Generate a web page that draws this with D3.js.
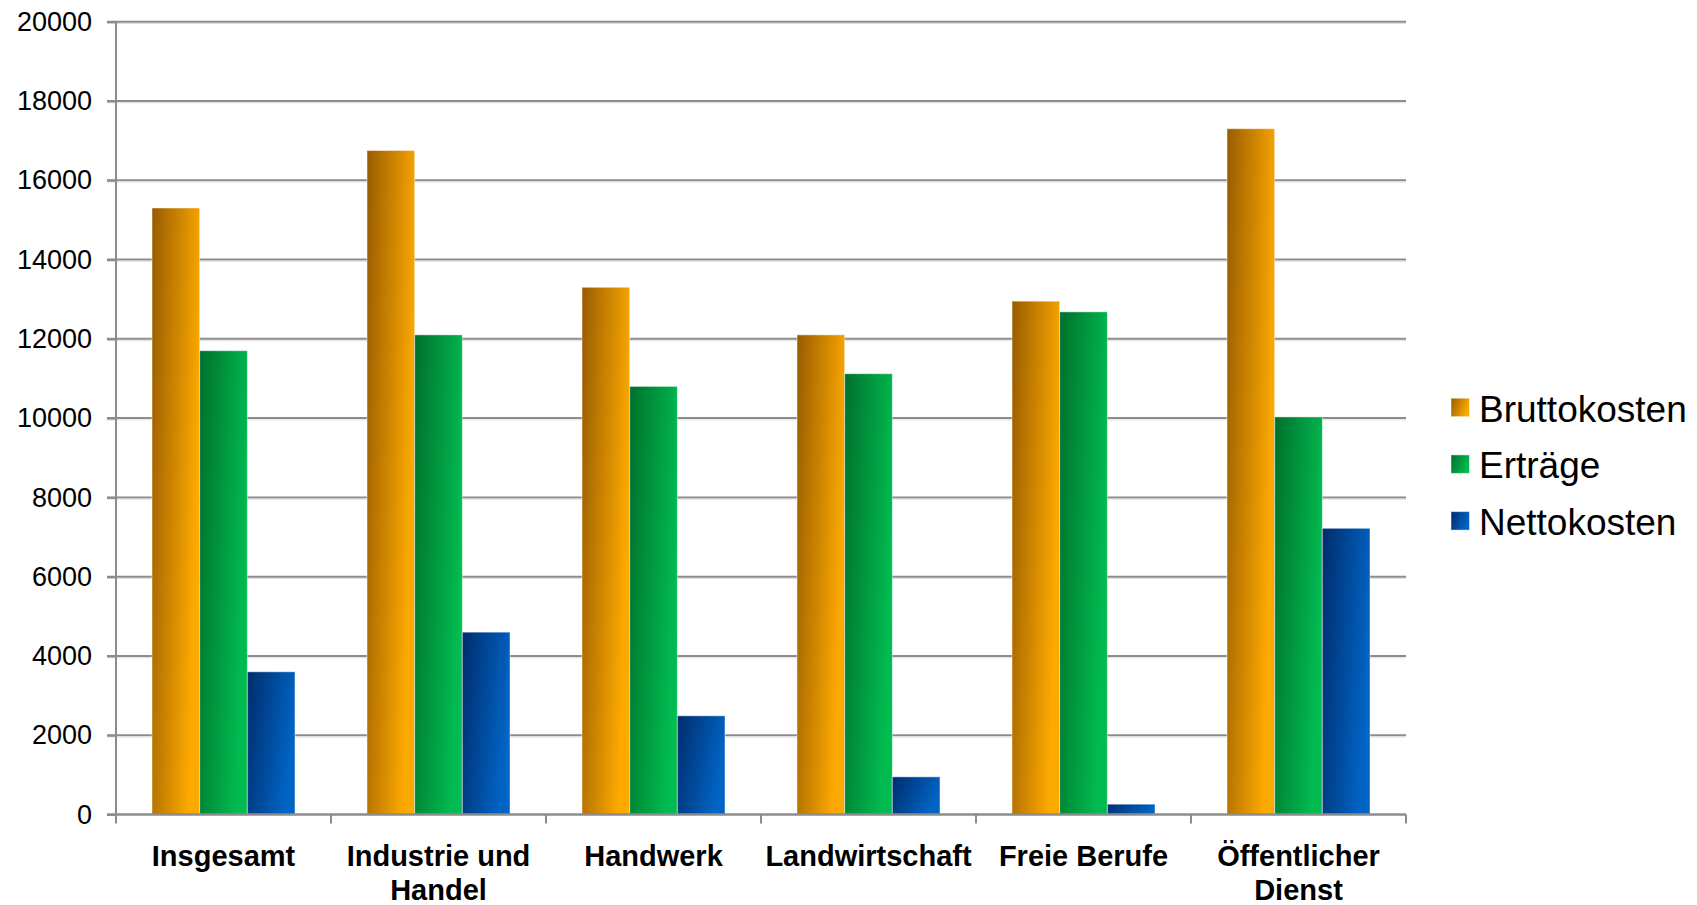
<!DOCTYPE html>
<html>
<head>
<meta charset="utf-8">
<script src="https://cdn.jsdelivr.net/npm/d3@7/dist/d3.min.js"></script>
<style>
  html, body { margin: 0; padding: 0; background: #ffffff; }
  svg { display: block; font-family: "Liberation Sans", Arial, sans-serif; }
</style>
</head>
<body>
<svg id="chart" width="1697" height="905"></svg>
<script>
const categories = [["Insgesamt"], ["Industrie und", "Handel"], ["Handwerk"], ["Landwirtschaft"], ["Freie Berufe"], ["Öffentlicher", "Dienst"]];
const seriesNames = ["Bruttokosten", "Erträge", "Nettokosten"];
const bruttokosten = [15300, 16750, 13300, 12100, 12950, 17300];
const ertraege     = [11700, 12100, 10800, 11120, 12680, 10030];
const nettokosten  = [3600, 4600, 2490, 950, 260, 7220];
const yTicks = [0, 2000, 4000, 6000, 8000, 10000, 12000, 14000, 16000, 18000, 20000];
const seriesValues = [bruttokosten, ertraege, nettokosten];
const gradStops = [["#985c00", "#fdaa00"], ["#00702c", "#00bb50"], ["#002c6c", "#0064c4"]];

(function () {
const svg = d3.select("#chart");
const pLeft = 116, pRight = 1406, pTop = 21.7, pBottom = 814.5;

const x = d3.scaleBand().domain(d3.range(categories.length)).range([pLeft, pRight])
  .paddingInner(0.335).paddingOuter(0.1675);
const xs = d3.scaleBand().domain(d3.range(seriesNames.length)).range([0, x.bandwidth()]);
const y = d3.scaleLinear().domain([0, 20000]).range([pBottom, pTop]);

const defs = svg.append("defs");
gradStops.forEach((s, i) => {
  const g = defs.append("linearGradient").attr("id", "g" + i)
    .attr("x1", 0).attr("y1", 0).attr("x2", 1).attr("y2", 0.35);
  g.append("stop").attr("offset", "0%").attr("stop-color", s[0]);
  g.append("stop").attr("offset", "100%").attr("stop-color", s[1]);
});

// gridlines
const grid = svg.append("g");
yTicks.filter(t => t > 0).forEach(t => {
  grid.append("line").attr("x1", pLeft - 9).attr("x2", pRight)
    .attr("y1", y(t)).attr("y2", y(t)).attr("stroke", "#8c8c8c").attr("stroke-width", 2);
  grid.append("line").attr("x1", pLeft - 9).attr("x2", pRight)
    .attr("y1", y(t) + 1.8).attr("y2", y(t) + 1.8).attr("stroke", "#dddddd").attr("stroke-width", 1);
});

// bars
const groups = svg.append("g").selectAll("g").data(categories).join("g")
  .attr("transform", (d, i) => `translate(${x(i)},0)`);
groups.each(function(d, ci) {
  const g = d3.select(this);
  seriesValues.forEach((vals, si) => {
    g.append("rect")
      .attr("x", xs(si)).attr("width", xs.bandwidth())
      .attr("y", y(vals[ci])).attr("height", y(0) - y(vals[ci]))
      .attr("fill", `url(#g${si})`)
      .attr("stroke", "rgba(255,255,255,0.45)").attr("stroke-width", 1);
  });
});

// y axis
const yAxis = d3.axisLeft(y).tickValues(yTicks).tickSize(9).tickFormat(d3.format("d"));
const ya = svg.append("g").attr("transform", `translate(${pLeft},0)`).call(yAxis);
ya.select(".domain").attr("stroke", "#8c8c8c").attr("stroke-width", 2).attr("d", `M0,${pTop}V${pBottom}`);
ya.selectAll(".tick line").attr("stroke", "#8c8c8c").attr("stroke-width", 2);
ya.selectAll(".tick text").attr("font-size", 27).attr("fill", "#000").attr("x", -24)
  .attr("font-family", "Liberation Sans, Arial, sans-serif");

// x axis
const edgeScale = d3.scaleLinear().domain([0, categories.length]).range([pLeft, pRight]);
const xa = svg.append("g");
xa.append("line").attr("x1", pLeft - 9).attr("x2", pRight).attr("y1", pBottom).attr("y2", pBottom)
  .attr("stroke", "#8c8c8c").attr("stroke-width", 2.5);
d3.range(categories.length + 1).forEach(i => {
  xa.append("line").attr("x1", edgeScale(i)).attr("x2", edgeScale(i))
    .attr("y1", pBottom).attr("y2", pBottom + 9).attr("stroke", "#8c8c8c").attr("stroke-width", 2);
});
categories.forEach((lines, i) => {
  const t = xa.append("text").attr("text-anchor", "middle").attr("font-size", 29)
    .attr("font-weight", "bold").attr("fill", "#000");
  lines.forEach((ln, k) => {
    t.append("tspan").attr("x", x(i) + x.bandwidth() / 2).attr("y", 865.5 + k * 34).text(ln);
  });
});

// legend
const lg = svg.append("g");
seriesNames.forEach((name, i) => {
  const by = 421.7 + i * 56.7;
  lg.append("rect").attr("x", 1451).attr("y", by - 23.5).attr("width", 18.5).attr("height", 18.5)
    .attr("fill", `url(#g${i})`).attr("stroke", "rgba(255,255,255,0.5)").attr("stroke-width", 1);
  lg.append("text").attr("x", 1479).attr("y", by).attr("font-size", 37).attr("fill", "#000").text(name);
});
})();
</script>
</body>
</html>
